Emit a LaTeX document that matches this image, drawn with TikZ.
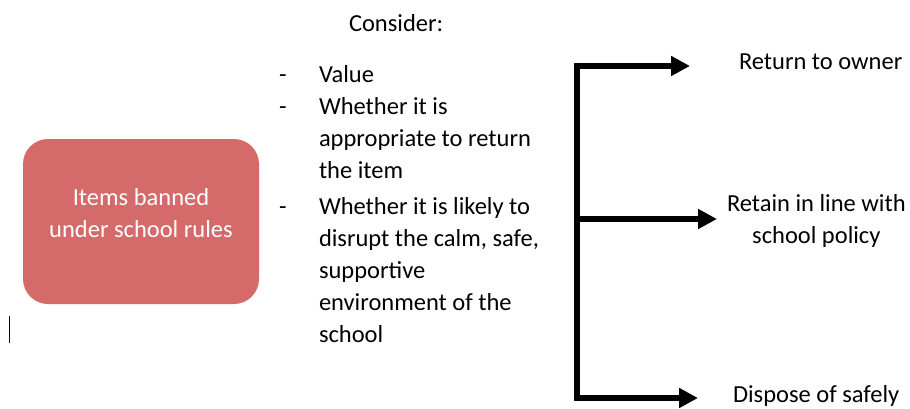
\documentclass[tikz,border=0pt]{standalone}
\usepackage{fontspec}
\setmainfont{Carlito}
\usetikzlibrary{arrows.meta}
\definecolor{boxred}{RGB}{212,107,106}
\begin{document}
\begin{tikzpicture}%
	[x=1pt, y=-1pt,
	every node/.style={inner sep=0pt, outer sep=0pt, font=\fontsize{24.5}{32}\selectfont},
	rulebox/.style={fill=boxred, rounded corners=25pt, minimum width=236pt, minimum height=165pt},
	rulename/.style={color=white, align=center, anchor=base},
	dashmark/.style={anchor=base west},
	item/.style={anchor=base west, align=left},
	outcome/.style={anchor=base west, align=center},
	branch/.style={color=black, line width=5.5pt, line join=miter},
	tip/.style={-{Triangle[length=19pt, width=19pt]}}]
%
\useasboundingbox (0,0) rectangle (910,408);
%%
%% the box on the left
%% (a node with several lines sits on the base of its last line)
%%
\node[rulebox] (box) at (141,221.5) {};
\node[rulename] (banned) at (141,237) {Items banned\\under school rules};
%%
%% what to consider
%%
\node[anchor=base west] (consider) at (349,31) {Consider:};
\node[dashmark] (d1) at (279,82) {-};
\node[dashmark] (d2) at (279,114) {-};
\node[dashmark] (d3) at (279,214) {-};
\node[item] (value) at (319,82) {Value};
\node[item] (appropriate) at (319,178) {Whether it is\\appropriate to return\\the item};
\node[item] (disrupt) at (319,342) {Whether it is likely to\\disrupt the calm, safe,\\supportive\\environment of the\\school};
%%
%% the three outcomes
%%
\node[outcome] (owner) at (739,69) {Return to owner};
\node[outcome] (retain) at (727,243) {Retain in line with\\school policy};
\node[anchor=base west] (dispose) at (733,402) {Dispose of safely};
%%
\coordinate (top) at (577,66);
\coordinate (mid) at (574.5,219);
\coordinate (bot) at (577,398);
\coordinate (to-owner) at (690,66);
\coordinate (to-retain) at (717,219);
\coordinate (to-dispose) at (698,398);
%%
%% the branching arrow
%%
\draw[branch, tip] (top) -- (to-owner);
\draw[branch] (top) -- (bot);
\draw[branch, tip] (bot) -- (to-dispose);
\draw[branch, tip] (mid) -- (to-retain);
%% the corners
\fill (574.25,63.25) rectangle (579.75,68.75);
\fill (574.25,395.25) rectangle (579.75,400.75);
%%
%% cursor mark
%%
\draw[line width=1.5pt] (9.5,316) -- (9.5,343);
\end{tikzpicture}
\end{document}
